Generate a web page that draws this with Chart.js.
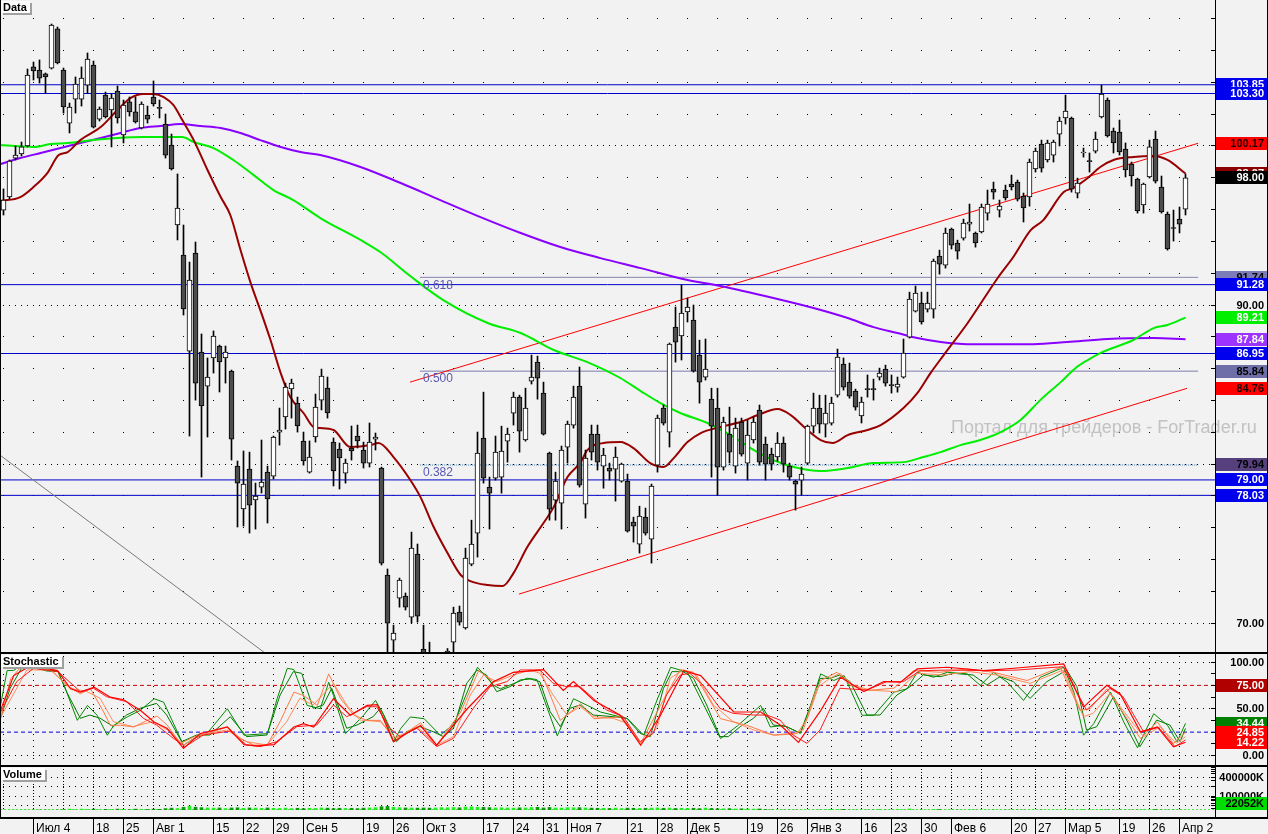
<!DOCTYPE html>
<html lang="ru">
<head>
<meta charset="UTF-8">
<title>Data</title>
<script src="https://cdn.jsdelivr.net/npm/chart.js"></script>
<style>
  body { margin: 0; background: #f2f2f2; }
  #wrap { position: relative; width: 1268px; height: 834px; overflow: hidden; background: #f2f2f2; }
  canvas { position: absolute; left: 0; }
  .hr { position: absolute; left: 0; width: 1268px; height: 2px; background: #000; }
  .vr { position: absolute; top: 0; width: 1px; background: #000; }
</style>
</head>
<body>
<div id="wrap">
  <canvas id="price" width="1268" height="652" style="top:0"></canvas>
  <canvas id="stoch" width="1268" height="111" style="top:654px"></canvas>
  <canvas id="vol" width="1268" height="67" style="top:767px"></canvas>
  <div class="hr" style="top:652px"></div>
  <div class="hr" style="top:765px"></div>
  <div class="hr" style="top:817px"></div>
  <div class="vr" style="left:0;height:818px"></div>
  <div class="vr" style="left:1267px;height:818px"></div>
</div>
<script>
// --- daily candles, 27 Jun 2011 .. 3 Apr 2012 ---
const open = [95.97,96.79,99.24,99.5,100.0,104.97,104.78,104.53,104.90,107.36,
104.78,101.44,102.95,102.95,103.83,105.09,101.69,103.2,102.26,103.46,
100.69,102.77,102.14,101.13,101.95,103.08,102.39,101.38,100.06,95.03,
93.14,87.1,93.27,87.04,84.9,86.67,87.42,86.67,85.85,79.87,
77.17,79.68,77.74,78.55,79.49,79.24,82.01,82.96,84.72,83.84,
81.45,79.49,81.70,84.02,84.78,81.38,80.94,79.43,81.01,81.76,
80.88,80.06,81.57,79.75,73.02,68.93,71.57,71.7,70.37,74.34,
68.36,67.9,67.2,67.5,67.9,68.80,70.69,69.69,73.71,75.65,
81.63,78.55,79.11,79.18,81.44,83.2,84.21,81.51,85.21,86.41,
84.46,80.69,77.73,77.54,81.06,82.45,84.9,77.48,81.88,81.88,
79.87,79.74,79.68,78.93,78.93,76.35,74.96,76.66,75.28,79.93,
83.52,82.01,88.61,88.05,89.56,89.05,86.85,85.47,84.08,83.52,
79.81,81.88,79.87,82.64,80.06,81.51,83.39,81.25,80.62,80.44,
81.32,79.87,78.93,78.99,80.06,82.38,83.52,82.51,82.57,84.33,
86.29,85.15,84.59,83.02,84.71,84.71,85.47,85.97,84.96,84.84,
85.47,87.98,89.62,90.12,89.74,89.74,93.08,92.51,94.78,93.9,
94.21,95.09,94.53,94.59,95.78,97.29,95.97,97.23,97.61,97.73,
96.85,96.79,98.55,100.12,99.12,99.43,100.75,101.76,101.76,97.04,
99.56,99.05,99.68,101.82,102.89,100.94,100.88,99.81,98.86,97.92,
96.29,98.05,100.44,97.42,95.72,94.84,95.4,96.03];
const high = [97.30,99.12,100.0,100.25,104.84,105.28,105.41,104.59,107.67,107.48,
104.90,102.7,104.34,104.97,105.85,105.34,102.45,103.39,103.27,103.77,
102.89,103.08,103.08,102.77,102.51,104.09,102.89,102.01,100.75,98.24,
95.03,92.7,93.96,88.18,86.67,88.37,87.48,87.42,85.91,80.19,
80.82,80.75,78.8,81.51,79.87,81.76,83.52,85.09,85.34,84.21,
82.01,81.45,84.4,85.97,85.47,81.64,81.32,80.31,82.39,82.45,
81.38,82.58,81.95,79.81,73.4,69.87,72.83,71.89,75.72,74.97,
69.87,68.8,67.9,68.0,68.4,71.0,71.07,74.71,76.47,82.01,
84.52,79.18,81.76,82.38,82.26,84.52,84.33,84.77,86.85,86.79,
85.15,80.75,79.49,81.13,82.7,84.9,86.1,80.88,82.45,82.45,
80.99,80.06,81.07,80.06,79.37,76.66,77.35,77.23,78.74,83.08,
83.71,87.61,89.87,91.25,90.44,90.0,87.79,87.86,84.77,84.77,
82.95,83.58,82.89,82.89,82.77,82.95,83.71,81.70,81.0,81.95,
81.70,80.06,78.99,79.81,82.45,84.46,84.33,84.33,84.21,87.23,
86.67,86.35,84.71,84.21,85.6,85.34,86.03,86.22,85.6,85.47,
87.86,90.81,91.19,90.81,90.81,92.89,93.45,94.84,94.84,94.08,
95.4,96.35,94.59,96.35,97.23,97.73,96.6,97.54,98.17,97.86,
97.04,99.18,99.87,100.37,100.37,100.37,101.82,103.2,101.82,97.98,
99.87,99.56,100.88,103.83,103.02,101.13,101.63,100.19,98.99,97.98,
97.67,100.37,100.94,98.11,95.85,95.97,96.16,98.24];
const low = [95.66,96.67,99.12,99.37,99.94,104.15,103.96,103.33,104.84,105.16,
102.07,100.82,102.07,102.51,103.33,101.13,101.57,101.76,99.94,101.44,
100.19,101.88,101.44,101.07,101.44,102.51,101.76,99.24,98.49,94.09,
89.37,81.76,84.02,79.18,81.70,85.72,84.53,85.09,80.25,76.04,
76.1,75.66,75.91,78.18,76.29,79.06,81.19,82.2,82.89,82.01,
79.93,79.43,81.38,83.4,82.89,78.62,78.43,78.8,80.25,81.01,
79.75,79.81,80.88,73.65,67.5,67.6,71.0,70.82,70.0,70.06,
67.3,67.0,66.5,66.8,67.5,67.8,69.87,69.62,73.6,74.15,
78.8,75.91,78.99,78.17,80.12,82.45,80.75,81.44,85.03,84.08,
81.82,76.47,76.47,75.91,80.06,82.26,78.55,76.60,80.25,79.62,
78.48,78.99,77.67,78.86,75.72,75.09,74.40,75.53,73.77,79.49,
82.45,81.07,86.41,86.54,88.93,85.78,83.83,85.28,79.18,78.05,
79.62,80.06,79.43,80.5,78.99,81.32,79.93,78.99,79.62,80.18,
79.49,78.99,77.10,78.05,79.99,81.95,81.95,81.70,82.45,84.21,
84.65,84.14,83.39,82.58,84.21,84.02,85.28,84.9,84.46,84.52,
85.4,87.92,89.56,88.8,89.56,89.18,91.94,92.32,93.52,92.89,
94.08,94.65,93.64,94.53,95.34,96.66,95.53,96.6,97.23,96.54,
95.22,96.22,98.36,98.36,98.99,98.99,100.0,101.38,97.1,96.73,
99.3,98.36,99.56,101.76,100.56,99.56,99.43,98.05,97.48,95.78,
95.78,97.98,97.67,95.78,93.45,94.02,94.53,95.66];
const close = [96.60,99.05,99.43,99.94,104.46,104.72,104.27,104.34,107.61,105.22,
102.45,102.45,103.9,104.27,105.47,101.19,102.32,101.82,103.02,101.76,
102.58,102.14,101.51,102.64,101.69,102.64,102.36,99.43,98.55,96.1,
89.75,91.57,85.09,83.65,85.47,88.05,86.42,87.04,81.57,78.8,
78.74,77.42,77.99,78.87,77.80,81.70,82.14,84.84,85.09,82.39,
80.19,80.44,83.58,85.53,83.21,79.56,80.38,80.06,80.82,81.45,
80.06,81.38,81.70,73.77,70.0,69.37,72.70,71.0,74.71,70.44,
67.9,67.6,67.5,67.8,68.24,70.63,70.06,74.09,74.96,80.69,
79.11,78.17,80.75,80.81,81.88,84.21,82.07,83.52,85.47,85.40,
81.88,77.16,78.93,80.88,82.51,84.21,78.67,80.37,80.75,80.12,
80.56,79.55,80.43,79.99,75.78,76.1,76.72,75.65,78.61,82.89,
82.57,87.54,87.67,89.49,89.87,85.84,85.15,85.97,82.38,79.81,
82.64,80.75,82.26,80.62,81.82,82.64,80.12,79.99,79.99,81.32,
79.99,79.18,78.74,79.37,82.38,83.52,82.51,83.2,83.84,86.73,
84.84,84.27,83.58,83.9,84.68,84.68,85.72,85.09,84.93,85.03,
86.98,90.37,90.75,88.93,90.12,92.76,92.57,94.53,93.77,93.39,
95.15,95.22,93.9,96.16,96.35,97.1,96.22,96.73,97.42,96.66,
96.1,98.99,99.68,98.61,100.19,100.25,101.57,102.2,97.29,97.67,
99.62,99.02,100.44,103.27,100.63,100.19,99.62,98.49,98.11,95.91,
97.61,99.94,97.79,95.85,93.52,94.81,95.09,98.00];
// volume, thousands
const volume = [30000,30000,31000,30000,32000,33000,31000,30000,34000,33000,
37000,38500,37000,38500,37500,38500,37000,38000,37500,38500,
38000,37000,38500,38000,37500,38500,38000,40000,41500,40000,
44000,48000,44500,43000,42000,41500,42000,40000,42000,42500,
41000,42000,41500,40500,42000,41000,40500,41500,40000,41000,
40000,41000,40500,42000,41500,40000,41000,40500,41000,40000,
41500,42000,43000,46000,47000,44000,43000,42000,42000,41500,
42000,41500,42000,43000,42500,43500,42500,45000,45500,44000,
44000,43000,42000,42500,42000,41500,42500,42000,43500,44000,
42000,43500,42000,41500,43000,42500,43000,42000,41500,41000,
41000,40500,41500,40000,41500,41000,40500,41000,41500,42000,
41000,41500,40500,41000,40500,41000,40000,41500,40500,39500,
39500,40000,39000,39500,39000,38500,39000,37500,36500,34000,
33000,32000,33000,31000,32000,33000,34000,37500,38000,37500,
38000,34000,35000,33000,34000,35000,38000,36000,35000,37500,
37000,39000,36000,35000,34500,37500,37500,34000,35000,34000,
35000,37000,35000,34000,35000,34000,33000,35000,34000,33000,
34000,35000,34000,35000,33000,34000,35000,33000,34000,35000,
37500,36000,35000,37500,36500,34000,35000,34000,36000,34000,
37000,35000,37500,36000,34000,33000,35000,22052];

// week starts (bar index) and their axis labels
const weekIdx = [0,5,10,15,20,25,30,35,40,45,50,55,60,65,70,75,80,85,90,94,99,104,109,114,119,124,129,134,138,143,148,153,158,163,168,172,177,181,186,191,196];
const weekLbl = ['','Июл 4','','18','25','Авг 1','','15','22','29','Сен 5','','19','26','Окт 3','','17','24','31','Ноя 7','','21','28','Дек 5','','19','26','Янв 3','','16','23','30','Фев 6','','20','27','Мар 5','','19','26','Апр 2'];

// moving averages (bar index, value)
const maFastIdx = [-0.5,2.8,5,7.3,9.2,10.7,12.8,16.2,19,21.2,23.3,25,26.7,28.3,29.8,31.7,34,36.2,37.8,39.5,41.2,42.8,44.5,46.2,47.8,50,51.7,52.8,55,57.8,61.2,62.5,65,67.8,69.5,71.7,74,76.2,77.8,80.7,83.2,85,87.3,90,91.7,94,96.2,97.3,100,102.8,105,107.8,110,111.7,114,116.2,119.5,122.8,125.7,129,131.2,134,136.2,138.2,140.7,144,146.2,150,152.3,154.5,156.7,160.7,165.7,168.3,171.2,173.3,176.7,178.3,180.7,182.8,185,188.3,191.7,194,197];
const maFastVal = [96.54,96.79,97.42,98.30,99.43,99.62,100.37,101.19,102.26,103.02,103.27,103.27,103.08,102.58,101.63,100.37,98.49,96.79,95.66,93.46,91.38,89.68,87.80,85.72,84.21,83.21,82.32,82.26,82.14,81.07,81.19,81.32,80.44,79.0,77.92,76.04,74.40,73.02,72.64,72.39,72.33,73.14,74.78,76.29,77.29,79.18,80.12,80.88,81.32,81.38,81.0,80.06,79.81,80.37,81.38,81.95,82.33,82.64,83.08,83.46,83.08,82.14,81.51,81.32,81.82,82.14,82.45,83.52,84.46,85.72,86.85,88.87,91.70,93.02,94.71,95.34,97.10,97.36,97.99,98.68,99.12,99.31,99.37,99.12,98.27];
const maMidIdx = [-0.5,5,7.8,10.7,15,19,23.3,27.3,29.8,31.7,35,38.3,41.7,45,48.3,52.8,59.5,62.8,67.8,73.3,80.7,86.2,91.7,97.3,102.8,106.2,109.5,112.8,117.3,121.7,124.5,128.3,131.7,136.2,140.7,145,150,153.3,156.2,159.5,162.8,166.2,169.5,172.8,176.2,178.7,180.7,182.8,188.3,191.7,194,197];
const maMidVal = [100.06,99.94,100.12,100.19,100.37,100.50,100.56,100.56,100.56,100.25,99.87,99.12,98.17,97.23,96.60,95.47,94.09,93.33,91.82,90.31,88.87,88.24,87.17,86.41,85.41,84.59,83.83,83.21,82.58,81.70,81.0,80.25,79.81,79.56,79.75,80.06,80.12,80.44,80.75,81.19,81.51,82.01,82.77,84.02,85.15,86.04,86.54,86.98,87.80,88.55,88.74,89.21];
const maSlowIdx = [-0.5,2.8,6.2,9.5,12.8,16.2,19.5,22.8,26.2,29.5,32.8,36.2,39.5,42.8,46.2,49.5,52.8,59.5,66.2,72.8,79.5,86.2,92.8,99.5,106.2,114,119.5,128.3,135,140.7,145,149,152.3,156.2,160.7,171.7,177.3,184,191.7,197];
const maSlowVal = [98.87,99.24,99.56,99.87,100.19,100.50,100.82,101.13,101.26,101.38,101.26,101.13,100.82,100.37,99.94,99.62,99.43,98.68,97.67,96.60,95.53,94.53,93.65,92.95,92.32,91.57,91.19,90.44,89.81,89.18,88.61,88.24,87.92,87.67,87.54,87.54,87.67,87.86,87.92,87.84];

// horizontal levels, fibonacci, trend lines
const levelVals = [103.85, 103.30, 91.28, 86.95, 79.00, 78.03];
const fibLevels = [91.74, 85.84, 79.94];
const fibNames = ['0.618', '0.500', '0.382'];
const fibSpan = [69.4, 199.1];
const trendUpX = [67.75, 199.1], trendUpY = [85.15, 100.17];
const trendLoX = [85.9, 197.25], trendLoY = [71.82, 84.76];
const greyX = [-0.58, 60], greyY = [80.56, 63.49];

// stochastic lines: fast (G, O, R) and their slower companions (G2, O2, R2)
const stGIdx = [-0.5,0.6,1.7,2.8,5.1,7.3,9,10.1,12.3,14,15.6,17.3,18.4,20.6,22.8,25.1,26.7,30,31.7,33.9,37.3,40.1,44,45.6,47.3,48.4,50.6,52.8,54.2,55,57,58.4,60,62,63.4,65,66.2,67.8,70.1,72.8,75.1,79,81.7,82.8,87.3,88.9,92.3,95,97.3,99.5,104,106.7,109,111.2,114,119.5,122.3,126.2,127.8,130,132.8,134.5,136.2,138.4,140.1,143.1,145.1,148.4,150.6,152.3,155,157.3,160.6,162.8,165,167.3,170,172.8,176.7,178.4,180,181.7,184.5,186.7,189,191.7,194,195.6,197];
const stGVal = [53.6,90.8,91,96,97,91,91,75,37.6,53.6,43,21.7,32.3,41.2,48.3,60.7,57,11,18.1,23.4,50,21.7,23.4,60.7,93.3,91.9,53.6,50,78.4,64.2,23.4,32.3,43,58.9,43,14.6,28.8,41.2,39.4,21.7,34,94.4,75,71.3,82.7,81.2,21,60.7,53.6,46.5,39.4,21.7,60.7,94.4,89,18.1,31.6,53.6,30.5,32.3,24,53.6,87.3,80.2,85.5,43,43,67.8,71.3,89,83.7,89,87.3,75,89,78.4,58.9,83.7,94.4,67.8,21.7,34,67.8,35.9,8.2,44.7,32.3,14.6,34.44];
const stOIdx = [-0.5,1.2,2.8,5.1,7.8,10.6,12.8,14.5,16.7,17.8,19.5,21.7,24,25.6,27.3,29.5,31.7,33.9,37.3,39.5,41.7,44,46.2,48.4,50,52.3,54.2,56.2,58.4,60.6,62.8,65,67.3,69.5,72.2,76.2,79.2,81.7,85,89.5,92.8,96.2,98.4,102.8,106.2,109.5,112.8,115,119.5,123.9,128.4,132.3,134,136.2,138.9,141.2,144,148.4,151.7,156.1,160.6,165,170.6,176.1,179.4,181.1,183.9,189.5,192.3,195,197];
const stOVal = [39.4,82,94,96,92.6,75,66,71.3,46.5,32.3,32.3,30.5,37.6,42.2,32.3,12.8,19.9,23.4,30.5,18.1,11,11.7,37.6,67.8,64.2,53.6,87.3,60.7,43,37.6,37.6,18.1,25.2,35,11,46.5,90.8,78.4,89,90.8,37.6,55.4,39.4,41.2,12.8,53.6,91.9,89,39.4,32.3,21.7,23.4,40,80.2,89,75,69.5,72,90.8,89,92.6,89,80.2,94.4,48.3,50,71.3,18.1,35.9,12.8,24.85];
const stRIdx = [-0.5,1.7,4.5,9,11.2,12.8,15.1,17.8,20,22.8,25.1,27.3,30,32.8,37.3,40.1,42.3,45.1,48.4,50,51.7,55,57.8,60.6,62.3,65,67.3,69.5,72.2,77.3,81.7,85,90,93.3,95,98.4,102.8,106.2,109.5,113.4,116.2,121.7,126.2,129.5,132.5,136.2,139.5,143.4,146.7,149.5,152.3,157.3,163.4,168.4,176.7,180,183.9,186.1,189.5,192.3,195,197];
const stRVal = [48.3,85.5,96,90.8,71.3,67.8,73.1,62.4,59.6,48.3,35.9,28.8,7.5,23.4,30.5,11.7,10.3,11.7,30.5,34,30.5,60.7,43,53.6,54.3,14.6,24,32,11,50,79.1,89,91.9,69.5,79.1,58.9,43,11,43,90.8,85.5,46.5,46.5,32.3,14,48,83.7,68.5,79.1,78.4,92.6,94.4,90.8,93.3,97.9,51.8,75,66,25.2,30.5,9.3,14.22];
const stG2Idx = [-0.58,1.1,3.0,5.0,7.2,9.1,10.5,12.8,14.4,16.1,18.3,20.5,22.8,25.5,27.2,29.7,32.2,34.4,37.8,40.5,43.9,46.1,48.3,49.7,51.6,53.3,54.7,57.2,58.9,61.6,62.8,63.9,65.5,67.2,69.4,71.6,73.3,75,77.2,78.9,80.5,82.2,84.4,86.1,87.8,89.4,91.1,92.8,94.4,96.1,98.3,101.6,103.9,106.1,107.8,110,111.4,113.3,115,117.2,119.4,120.8,122.8,125,126.6,128.3,130.5,132.8,134.4,136.1,137.7,139.4,141.1,143.9,146.1,148.9,151.1,153.3,156.1,158.3,161.6,163.9,166.1,168.3,171.1,173.9,177.2,178.9,180.5,182.2,185,187.2,189.4,192.2,194.4,196.1,197];
const stG2Val = [38,71.9,93.2,94,90.4,89.7,68.3,39.8,43.3,39.8,30.9,43.3,50.5,55.8,43.3,14.8,21.9,21.9,41.5,20.2,21.9,64.7,89.7,87.9,50.5,54,71.9,29.1,32.6,41.5,50.5,36.2,14.8,25.5,30.9,25.5,20.2,29.1,77.2,91.5,86.1,68.3,73.6,80.8,81.8,79,46.9,30.9,50.5,54,43.3,41.5,39.8,23.7,20.2,71.9,89.7,89.7,82.5,54,20.2,20.2,30.9,39.8,50.5,32.6,30.9,23.7,50.5,82.5,82.5,86.1,79,43.3,43.3,64.7,73.6,86.1,84.3,87.9,86.1,75.4,84.3,79,61.1,79,91.4,73.6,27.2,30.8,62.9,37.9,9.4,37.9,32.6,14.8,29];
const stO2Idx = [-0.58,3.9,7.8,11.1,13.9,16.1,18.3,21.6,24.9,27.8,30,32.8,37.2,40.5,43.9,47.2,49.4,51.6,55,57.2,59.4,62.8,65.5,68.9,72.2,75,77.8,80,82.2,85,87.8,89.4,91.6,93.9,96.1,98.3,101.6,103.9,106.1,108.9,111.1,113.3,115.5,118.3,121.6,125,128.3,131.6,133.3,135.5,137.7,139.4,141.6,144.4,148.9,152.2,156.6,161.1,165.5,171.1,176.6,180,181.6,184.4,190,192.75,195.5,197];
const stO2Val = [39.8,91.5,91.5,71.9,68.3,61.2,36.2,30.9,36.2,25.5,11.2,21.9,27.3,14.8,11.2,36.2,61.2,54,77.2,54,38,36.2,18.4,30.9,11.2,20.2,64.7,86.1,79,86.1,91.5,87.9,64.7,43.3,52.2,41.5,39.8,34.4,13,29.1,82.5,91.5,86.1,54,36.2,27.3,21.9,23.7,27.3,71.9,82.5,87.9,75.4,70,68.2,87.9,86.1,89.6,86.1,77.2,91.4,41.5,45.1,66.5,20.1,30.8,13,20.1];
const stR2Idx = [-0.58,2.2,5,9.1,12.8,15,17.2,20.5,23.3,25.5,28.3,30.3,33.3,37.8,40.5,42.8,45.5,48.9,52.2,55,57.2,60.5,62.2,64.4,66.1,68.9,72.2,75,78.3,81.1,83.9,86.1,89.4,91.6,93.9,96.1,98.3,100.5,103.3,106.1,108.3,110.5,112.8,114.4,116.6,119.4,121.6,125,127.2,129.4,131.6,133.9,136.1,139.4,143.9,147.2,150,152.75,157.75,163.9,168.9,176.6,180.5,184.4,186.6,190,192.5,195.25,197];
const stR2Val = [45.1,79,93.2,89.7,68.3,71.9,62.9,57.6,39.8,32.6,18.4,9.5,21.9,26.2,11.2,9.5,14.8,30.9,32.6,54,41.5,52.2,52.2,29.1,20.2,29.1,9.5,18.4,50.5,73.6,79,91.5,91.5,77.2,73.6,73.6,61.2,48.7,41.5,14.8,23.7,64.7,86.1,87.9,75.4,50.5,45.1,43.3,43.3,38,21.9,13,27.3,71.9,70,79,79,90.7,91.4,90.7,91.4,95,48.6,71.8,62.9,25.5,30.1,9.4,16.6];
const stochHi = 75, stochLo = 25;
const volBase = 37000;

// ---------------------------------------------------------------
const FONT = '"Liberation Sans", Arial, sans-serif';
const xMin = -0.5 - 1 / 12;
const xMax = xMin + 1215 / 6;
const idx = open.map((_, i) => i);
const up = open.map((o, i) => close[i] >= o);
const BLUE = '#0000ee';

function pts(xs, ys) { return xs.map((x, i) => ({ x: x, y: ys[i] })); }
function line(xs, ys, color, width, extra) {
  return Object.assign({ type: 'line', data: pts(xs, ys), borderColor: color, borderWidth: width,
    pointRadius: 0, fill: false, order: 3 }, extra || {});
}
function hline(v, color, width, extra) { return line([xMin, xMax], [v, v], color, width, extra); }

function panelPlugin(cfg) {
  return {
    id: 'panel',
    beforeDatasetsDraw(chart) {
      const { ctx, chartArea: a, scales: { x, y } } = chart;
      const px = v => Math.floor(x.getPixelForValue(v));
      const py = v => Math.floor(y.getPixelForValue(v));
      ctx.save();
      ctx.fillStyle = '#000';
      (cfg.sparse || []).forEach(v => weekIdx.forEach(w => ctx.fillRect(px(w), py(v), 1, 1)));
      (cfg.dense || []).forEach(v => { for (let i = 0; i <= 201; i++) ctx.fillRect(px(i), py(v), 1, 1); });
      if (cfg.vDots) weekIdx.forEach(w => { for (let yy = a.top + 2; yy < a.bottom - 1; yy += cfg.vDots) ctx.fillRect(px(w), yy, 1, 1); });
      if (cfg.under) cfg.under(chart, px, py);
      ctx.restore();
    },
    afterDatasetsDraw(chart) {
      if (!cfg.over) return;
      const { ctx, scales: { x, y } } = chart;
      ctx.save();
      cfg.over(chart, v => x.getPixelForValue(v), v => y.getPixelForValue(v));
      ctx.restore();
    },
    afterDraw(chart) {
      const { ctx, chartArea: a, scales: { x, y } } = chart;
      const px = v => Math.floor(x.getPixelForValue(v));
      const py = v => Math.floor(y.getPixelForValue(v));
      const R = Math.round(a.right);
      ctx.save();
      ctx.fillStyle = '#000';
      ctx.fillRect(R, 0, 1, cfg.axisH || chart.height);
      cfg.minor.forEach(v => ctx.fillRect(R - 4, py(v), 4, 1));
      ctx.font = 'bold 11px ' + FONT;
      ctx.textAlign = 'right';
      ctx.textBaseline = 'middle';
      cfg.labels.forEach(([v, t]) => { ctx.fillStyle = '#000'; ctx.fillText(t, 1264, py(v) + 1); });
      cfg.tags.forEach(([v, t, bg, fg]) => {
        const c = Math.min(py(v), Math.floor(a.bottom) - 7);
        ctx.fillStyle = bg; ctx.fillRect(R + 1, c - 6, 1266 - R, 13);
        ctx.fillStyle = fg; ctx.fillText(t, 1264, c + 1);
      });
      // panel title box
      ctx.textAlign = 'left';
      ctx.textBaseline = 'alphabetic';
      const w = Math.ceil(ctx.measureText(cfg.title).width) + 5;
      ctx.fillStyle = '#a0a0a0'; ctx.fillRect(3, 3, w, 12);
      ctx.fillStyle = '#ffffff'; ctx.fillRect(1, 1, w, 12);
      ctx.fillStyle = '#000'; ctx.fillText(cfg.title, 3, 11);
      if (cfg.axisX) {
        ctx.font = '12px ' + FONT;
        weekIdx.forEach((wk, k) => {
          if (!weekLbl[k]) return;
          const X = px(wk);
          ctx.fillRect(X, 51, 1, 16);
          ctx.fillText(weekLbl[k], X + 3, 65);
        });
      }
      ctx.restore();
    }
  };
}

function baseOptions(yOpts, pad) {
  return {
    responsive: false, animation: false, devicePixelRatio: 1, events: [],
    layout: { padding: pad },
    plugins: { legend: { display: false }, tooltip: { enabled: false } },
    scales: {
      x: { type: 'linear', min: xMin, max: xMax, offset: false, display: false },
      y: Object.assign({ display: false }, yOpts)
    }
  };
}

// ---------------- price panel ----------------
const f2 = v => v.toFixed(2);
const last = a => a[a.length - 1];
const priceTags = [
  [levelVals[0], f2(levelVals[0]), BLUE, '#fff'],
  [levelVals[1], f2(levelVals[1]), BLUE, '#fff'],
  [trendUpY[1], f2(trendUpY[1]), '#ff0000', '#200000'],
  [last(maFastVal), f2(last(maFastVal)), '#8b0000', '#fff'],
  [last(close), f2(last(close)), '#000', '#fff'],
  [fibLevels[0], f2(fibLevels[0]), '#7c7cb8', '#000'],
  [levelVals[2], f2(levelVals[2]), BLUE, '#fff'],
  [last(maMidVal), f2(last(maMidVal)), '#00ee00', '#fff'],
  [last(maSlowVal), f2(last(maSlowVal)), '#9c33ff', '#fff'],
  [levelVals[3], f2(levelVals[3]), BLUE, '#fff'],
  [fibLevels[1], f2(fibLevels[1]), '#6e6ea8', '#000'],
  [trendLoY[1], f2(trendLoY[1]), '#ff0000', '#200000'],
  [fibLevels[2], f2(fibLevels[2]), '#57407e', '#000'],
  [levelVals[4], f2(levelVals[4]), BLUE, '#fff'],
  [levelVals[5], f2(levelVals[5]), BLUE, '#fff']
];
const priceMinor = [];
for (let v = 70; v <= 108; v += 2) priceMinor.push(v);

new Chart(document.getElementById('price'), {
  type: 'bar',
  data: {
    datasets: [
      { type: 'bar', data: idx.map(i => ({ x: i, y: [open[i], close[i]] })),
        backgroundColor: up.map(u => u ? '#ffffff' : '#4d4d4d'), borderColor: '#000', borderWidth: 1,
        borderSkipped: false, barThickness: 5, minBarLength: 1, grouped: false, clip: 0, order: 0 },
      { type: 'bar', data: idx.map(i => ({ x: i, y: [low[i], high[i]] })),
        backgroundColor: '#000', barThickness: 1, grouped: false, clip: 0, order: 1 },
      line(maFastIdx, maFastVal, '#990000', 2, { cubicInterpolationMode: 'monotone', order: 2 }),
      line(maMidIdx, maMidVal, '#00ee00', 2, { cubicInterpolationMode: 'monotone', order: 2 }),
      line(maSlowIdx, maSlowVal, '#8a00ff', 2, { cubicInterpolationMode: 'monotone', order: 2 }),
      line(trendUpX, trendUpY, '#ff0000', 1),
      line(trendLoX, trendLoY, '#ff0000', 1),
      line(greyX, greyY, '#7a7a7a', 1),
      line(fibSpan, [fibLevels[0], fibLevels[0]], '#8484b0', 1, { order: 4 }),
      line(fibSpan, [fibLevels[1], fibLevels[1]], '#7c7cb0', 1, { order: 4 }),
      line(fibSpan, [fibLevels[2], fibLevels[2]], '#4f7fa8', 1, { order: 4, borderDash: [1, 1] })
    ].concat(levelVals.map(v => hline(v, '#0000cc', 1, { order: 4 })))
  },
  options: baseOptions({ min: 68.18, max: 109.18 }, { left: 0, right: 53, top: 0, bottom: 0 }),
  plugins: [panelPlugin({
    title: 'Data',
    sparse: priceMinor.filter(v => v % 10 !== 0),
    dense: [70, 80, 90, 100],
    minor: priceMinor,
    labels: [[70, '70.00'], [80, '80.00'], [90, '90.00'], [100, '100.00']],
    tags: priceTags,
    under(chart) {
      const { ctx } = chart;
      ctx.font = '18px ' + FONT;
      ctx.fillStyle = '#c2c2c2';
      ctx.textAlign = 'left';
      ctx.fillText('Портал для трейдеров - ForTrader.ru', 951, 433);
    },
    over(chart, px, py) {
      const { ctx } = chart;
      ctx.font = '12px ' + FONT;
      ctx.fillStyle = '#5858b0';
      ctx.textAlign = 'left';
      ctx.textBaseline = 'top';
      fibLevels.forEach((v, k) => ctx.fillText(fibNames[k], px(fibSpan[0]) + 3, py(v) + 2));
    }
  })]
});

// ---------------- stochastic panel ----------------
new Chart(document.getElementById('stoch'), {
  type: 'line',
  data: {
    datasets: [
      line(stRIdx, stRVal, '#ff0000', 1.2, { order: 0 }),
      line(stR2Idx, stR2Val, '#ff1a1a', 1, { order: 1 }),
      line(stOIdx, stOVal, '#ff7a45', 1, { order: 2 }),
      line(stO2Idx, stO2Val, '#ff8c5a', 1, { order: 2 }),
      line(stGIdx, stGVal, '#008a00', 1, { order: 3 }),
      line(stG2Idx, stG2Val, '#007a00', 1, { order: 3 }),
      hline(stochHi, '#cc0000', 1, { borderDash: [4, 3], order: 5 }),
      hline(stochLo, '#0000dd', 1, { borderDash: [4, 3], order: 5 })
    ]
  },
  options: baseOptions({ min: -10.16, max: 108.56 }, { left: 0, right: 53, top: 0, bottom: 0 }),
  plugins: [panelPlugin({
    title: 'Stochastic',
    dense: [0, 50, 100],
    vDots: 6,
    minor: [0, 12.5, 25, 37.5, 50, 62.5, 75, 87.5, 100],
    labels: [[100, '100.00'], [50, '50.00'], [0, '0.00']],
    tags: [
      [stochHi, f2(stochHi), '#b00000', '#fff'],
      [last(stGVal), f2(last(stGVal)), '#008000', '#fff'],
      [last(stOVal), f2(last(stOVal)), '#ff0000', '#fff'],
      [last(stRVal), f2(last(stRVal)), '#ff0000', '#fff']
    ]
  })]
});

// ---------------- volume panel ----------------
const volMinor = [40000, 50000, 60000, 70000, 80000, 90000, 100000, 200000, 300000, 400000, 500000, 600000, 700000, 800000];
new Chart(document.getElementById('vol'), {
  type: 'bar',
  data: {
    datasets: [
      { type: 'bar', data: idx.map(i => ({ x: i, y: volume[i] })),
        backgroundColor: up.map(u => u ? '#22ee22' : '#0a9a0a'), barThickness: 3, grouped: false, clip: 0, order: 0 },
      hline(volBase, '#33dd33', 1, { borderDash: [2, 2], order: 1 })
    ]
  },
  options: baseOptions({ type: 'logarithmic', min: 36130, max: 829000 }, { left: 0, right: 53, top: 0, bottom: 24 }),
  plugins: [panelPlugin({
    title: 'Volume',
    dense: [50000, 100000, 200000, 400000],
    vDots: 3,
    axisH: 50,
    axisX: true,
    minor: volMinor,
    labels: [[400000, '400000K'], [100000, '100000K']],
    tags: [[last(volume), last(volume) + 'K', '#00dd00', '#000']]
  })]
});
</script>
</body>
</html>
